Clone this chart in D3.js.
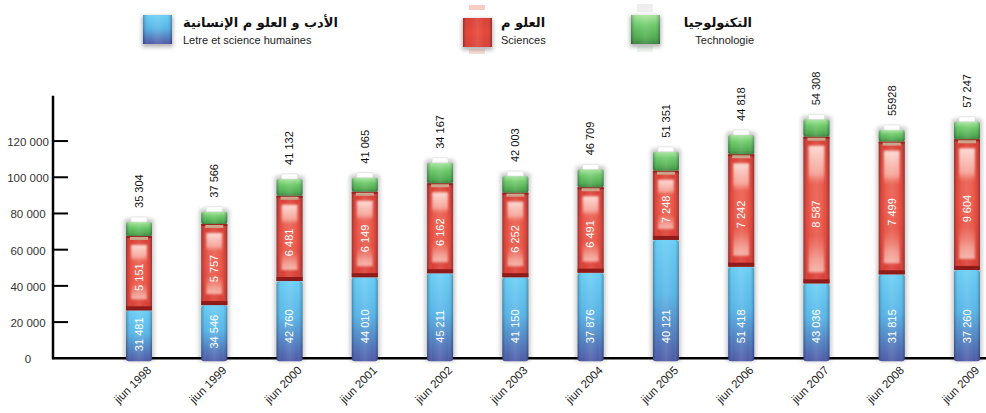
<!DOCTYPE html>
<html>
<head>
<meta charset="utf-8">
<script src="https://cdn.jsdelivr.net/npm/d3@7"></script>
<style>
  body { margin: 0; background: #fff; }
  svg { display: block; }
  .tick-label { font-family: "Liberation Sans", Arial, sans-serif; font-size: 11.5px; fill: #333; }
  .val { font-family: "Liberation Sans", Arial, sans-serif; font-size: 11px; }
  .ar { font-family: "DejaVu Sans", sans-serif; font-weight: bold; font-size: 13px; fill: #111; }
  .en { font-family: "Liberation Sans", Arial, sans-serif; font-size: 11px; fill: #222; }
</style>
</head>
<body>
<svg id="chart"></svg>
<script>
// categories
const years = ['jiun 1998', 'jiun 1999', 'jiun 2000', 'jiun 2001', 'jiun 2002', 'jiun 2003',
  'jiun 2004', 'jiun 2005', 'jiun 2006', 'jiun 2007', 'jiun 2008', 'jiun 2009'];

// segment heights as drawn
const lettres = [26500, 29400, 42700, 44800, 47000, 44800, 47300, 65400, 50600, 41400, 46400, 48800];
const sciences = [41100, 44800, 47100, 47200, 49700, 46700, 47200, 38200, 62100, 81000, 73300, 72200];
const technologie = [7700, 6800, 9300, 7800, 11300, 9200, 9900, 10500, 10700, 9600, 6400, 9700];

// printed labels
const lettresLabels = ['31 481', '34 546', '42 760', '44 010', '45 211', '41 150',
  '37 876', '40 121', '51 418', '43 036', '31 815', '37 260'];
const sciencesLabels = ['5 151', '5 757', '6 481', '6 149', '6 162', '6 252',
  '6 491', '7 248', '7 242', '8 587', '7 499', '9 604'];
const totalLabels = ['35 304', '37 566', '41 132', '41 065', '34 167', '42 003',
  '46 709', '51 351', '44 818', '54 308', '55928', '57 247'];

const yTicks = [0, 20000, 40000, 60000, 80000, 100000, 120000];

const width = 986, height = 413;
const barWidth = 26;

const svg = d3.select('#chart').attr('width', width).attr('height', height);
const defs = svg.append('defs');

// gradients
function linGrad(id, vertical, stops) {
  const g = defs.append('linearGradient').attr('id', id)
    .attr('x1', 0).attr('y1', 0)
    .attr('x2', vertical ? 0 : 1).attr('y2', vertical ? 1 : 0);
  stops.forEach(s => g.append('stop').attr('offset', s[0]).attr('stop-color', s[1]).attr('stop-opacity', s[2] == null ? 1 : s[2]));
}
linGrad('blueG', true, [[0, '#62cbf3'], [0.45, '#50b2e6'], [1, '#4550a0']]);
linGrad('redG', true, [[0, '#d8352a'], [0.5, '#e43c2c'], [1, '#d8342a']]);
linGrad('greenG', true, [[0, '#a5e49a'], [0.35, '#66c862'], [0.8, '#45a545'], [1, '#357f38']]);
linGrad('sideG', false, [[0, '#001030', 0.3], [0.2, '#ffffff', 0.05], [0.5, '#ffffff', 0.15], [0.8, '#ffffff', 0.05], [1, '#001030', 0.3]]);
linGrad('redHi', true, [[0, '#ffe8e2', 0.9], [0.22, '#ffc8bd', 0.7], [0.3, '#ff9a8a', 0.25], [0.7, '#ff9a8a', 0.2], [0.9, '#ffd0c4', 0.6], [1, '#ffe0d8', 0.7]]);

const blur = defs.append('filter').attr('id', 'shadow')
  .attr('x', '-50%').attr('y', '-20%').attr('width', '200%').attr('height', '140%');
blur.append('feGaussianBlur').attr('stdDeviation', 2.2);

const soft = defs.append('filter').attr('id', 'soft')
  .attr('x', '-20%').attr('y', '-10%').attr('width', '140%').attr('height', '120%');
soft.append('feGaussianBlur').attr('stdDeviation', 0.9);

// scales
const x = d3.scalePoint().domain(years).range([139, 967]);
const y = d3.scaleLinear().domain([0, 145000]).range([358.3, 95.8]);

// axes
const axisX = 53;
svg.append('line')
  .attr('x1', axisX).attr('x2', axisX)
  .attr('y1', y(145000)).attr('y2', y(0) + 1)
  .attr('stroke', '#000').attr('stroke-width', 2.5);
svg.append('line')
  .attr('x1', axisX - 1).attr('x2', width)
  .attr('y1', y(0)).attr('y2', y(0))
  .attr('stroke', '#000').attr('stroke-width', 2.5);

svg.selectAll('.tick-mark')
  .data(yTicks.filter(d => d > 0))
  .join('line')
    .attr('class', 'tick-mark')
    .attr('x1', axisX).attr('x2', axisX + 15)
    .attr('y1', d => y(d)).attr('y2', d => y(d))
    .attr('stroke', '#000').attr('stroke-width', 2);

svg.selectAll('.tick-label')
  .data(yTicks)
  .join('text')
    .attr('class', 'tick-label')
    .attr('x', 28)
    .attr('y', d => y(d) + 1)
    .attr('dy', '0.35em')
    .attr('text-anchor', 'middle')
    .text(d => d === 0 ? '0' : d3.format(',')(d).replace(/,/g, ' '));

// stacked data
const rows = years.map((yr, i) => ({
  year: yr, lettres: lettres[i], sciences: sciences[i], technologie: technologie[i], i: i
}));
const stack = d3.stack().keys(['lettres', 'sciences', 'technologie'])(rows);

const bars = svg.selectAll('.bar')
  .data(rows)
  .join('g')
    .attr('class', 'bar')
    .attr('transform', d => `translate(${x(d.year) - barWidth / 2},0)`);

// soft shadow behind each bar
bars.append('rect')
  .attr('x', -2).attr('width', barWidth + 4)
  .attr('y', (d, i) => y(stack[2][i][1]) - 3)
  .attr('height', (d, i) => y(0) - y(stack[2][i][1]) + 6)
  .attr('rx', 3)
  .attr('fill', '#000').attr('opacity', 0.22)
  .attr('filter', 'url(#shadow)');

// blue segment
bars.append('rect')
  .attr('y', (d, i) => y(stack[0][i][1]))
  .attr('height', (d, i) => y(0) - y(stack[0][i][1]) + 3)
  .attr('width', barWidth).attr('rx', 3)
  .attr('fill', 'url(#blueG)');
bars.append('rect')
  .attr('y', (d, i) => y(stack[0][i][1]))
  .attr('height', (d, i) => y(0) - y(stack[0][i][1]) + 3)
  .attr('width', barWidth).attr('rx', 3)
  .attr('fill', 'url(#sideG)');

// red segment
bars.append('rect')
  .attr('y', (d, i) => y(stack[1][i][1]))
  .attr('height', (d, i) => y(stack[1][i][0]) - y(stack[1][i][1]))
  .attr('width', barWidth)
  .attr('fill', 'url(#redG)');
bars.append('rect')
  .attr('x', 5)
  .attr('y', (d, i) => y(stack[1][i][1]) + 9)
  .attr('height', (d, i) => Math.max(0, y(stack[1][i][0]) - y(stack[1][i][1]) - 20))
  .attr('width', barWidth - 10)
  .attr('fill', 'url(#redHi)')
  .attr('filter', 'url(#soft)');
bars.append('rect')
  .attr('y', (d, i) => y(stack[1][i][1]))
  .attr('height', (d, i) => y(stack[1][i][0]) - y(stack[1][i][1]))
  .attr('width', barWidth)
  .attr('fill', 'url(#sideG)');
// dark bands top and bottom of red
bars.append('rect')
  .attr('y', (d, i) => y(stack[1][i][0]) - 4)
  .attr('height', 4).attr('width', barWidth)
  .attr('fill', '#8e1b19');
bars.append('rect')
  .attr('y', (d, i) => y(stack[1][i][1]))
  .attr('height', 2).attr('width', barWidth)
  .attr('fill', '#9b211c');
bars.append('rect')
  .attr('x', 4)
  .attr('y', (d, i) => y(stack[1][i][1]) + 1)
  .attr('height', 3).attr('width', barWidth - 8)
  .attr('fill', '#c9a58c');

// green segment
bars.append('rect')
  .attr('y', (d, i) => y(stack[2][i][1]))
  .attr('height', (d, i) => y(stack[2][i][0]) - y(stack[2][i][1]))
  .attr('width', barWidth).attr('rx', 2)
  .attr('fill', 'url(#greenG)');
bars.append('rect')
  .attr('y', (d, i) => y(stack[2][i][1]))
  .attr('height', (d, i) => y(stack[2][i][0]) - y(stack[2][i][1]))
  .attr('width', barWidth).attr('rx', 2)
  .attr('fill', 'url(#sideG)');

// white cap
bars.append('rect')
  .attr('x', 5)
  .attr('y', (d, i) => y(stack[2][i][1]) - 5)
  .attr('height', 5).attr('width', barWidth - 10)
  .attr('rx', 1)
  .attr('fill', '#fff').attr('stroke', '#d8d8d8').attr('stroke-width', 0.6);

// labels inside blue
bars.append('text')
  .attr('class', 'val')
  .attr('fill', '#fff')
  .attr('text-anchor', 'middle')
  .attr('dy', '0.35em')
  .attr('transform', (d, i) => {
    const h = y(0) - y(stack[0][i][1]);
    return `translate(${barWidth / 2},${y(0) - Math.min(h / 2, 32)}) rotate(-90)`;
  })
  .text((d, i) => lettresLabels[i]);

// labels inside red
bars.append('text')
  .attr('class', 'val')
  .attr('fill', '#fff')
  .attr('text-anchor', 'middle')
  .attr('dy', '0.35em')
  .attr('transform', (d, i) => {
    const c = (y(stack[1][i][0]) + y(stack[1][i][1])) / 2 + 4;
    return `translate(${barWidth / 2},${c}) rotate(-90)`;
  })
  .text((d, i) => sciencesLabels[i]);

// totals above
bars.append('text')
  .attr('class', 'val')
  .attr('fill', '#111')
  .attr('text-anchor', 'start')
  .attr('dy', '0.35em')
  .attr('transform', (d, i) => `translate(${barWidth / 2},${y(stack[2][i][1]) - 14}) rotate(-90)`)
  .text((d, i) => totalLabels[i]);

// x labels
svg.selectAll('.x-label')
  .data(years)
  .join('text')
    .attr('class', 'en x-label')
    .attr('text-anchor', 'end')
    .attr('transform', d => `translate(${x(d) + 13},${371}) rotate(-45)`)
    .style('font-size', '11.5px')
    .attr('fill', '#111')
    .text(d => d);

// legend
const legendItems = [
  {ar: 'الأدب و العلو م الإنسانية', en: 'Letre et science humaines', fill: 'blueG', sx: 143, sy: 15, tx: 183, anchor: 'start'},
  {ar: 'العلو م', en: 'Sciences', fill: 'redG', sx: 463, sy: 18, tx: 501, anchor: 'start'},
  {ar: 'التكنولوجيا', en: 'Technologie', fill: 'greenG', sx: 631, sy: 15, tx: 754, anchor: 'end'}
];

const legend = svg.append('g').attr('class', 'legend');

// pale caps around red and green squares
legend.append('rect').attr('x', 469).attr('y', 5).attr('width', 16).attr('height', 5).attr('fill', '#f6c0b4').attr('opacity', 0.8);
legend.append('rect').attr('x', 469).attr('y', 49).attr('width', 16).attr('height', 5).attr('fill', '#f6c0b4').attr('opacity', 0.5);
legend.append('rect').attr('x', 637).attr('y', 4).attr('width', 16).attr('height', 8).attr('fill', '#e8e8e8').attr('opacity', 0.8);
legend.append('rect').attr('x', 637).attr('y', 46).attr('width', 16).attr('height', 6).attr('fill', '#d8e8d8').attr('opacity', 0.5);

const entry = legend.selectAll('.legend-entry')
  .data(legendItems)
  .join('g')
    .attr('class', 'legend-entry');

entry.append('rect')
  .attr('x', d => d.sx - 1).attr('y', d => d.sy + 1)
  .attr('width', 31).attr('height', 31)
  .attr('fill', '#000').attr('opacity', 0.3)
  .attr('filter', 'url(#shadow)');
entry.append('rect')
  .attr('x', d => d.sx).attr('y', d => d.sy)
  .attr('width', 29).attr('height', 29)
  .attr('fill', d => `url(#${d.fill})`);
entry.append('rect')
  .attr('x', d => d.sx).attr('y', d => d.sy)
  .attr('width', 29).attr('height', 29)
  .attr('fill', 'url(#sideG)');

entry.append('text')
  .attr('class', 'ar')
  .attr('x', d => d.anchor === 'start' ? d.tx : d.tx - 2)
  .attr('y', 27)
  .attr('text-anchor', d => d.anchor === 'start' ? 'start' : 'end')
  .attr('direction', 'ltr')
  .text(d => d.ar);

entry.append('text')
  .attr('class', 'en')
  .attr('x', d => d.tx)
  .attr('y', 44)
  .attr('text-anchor', d => d.anchor)
  .text(d => d.en);
</script>
</body>
</html>
